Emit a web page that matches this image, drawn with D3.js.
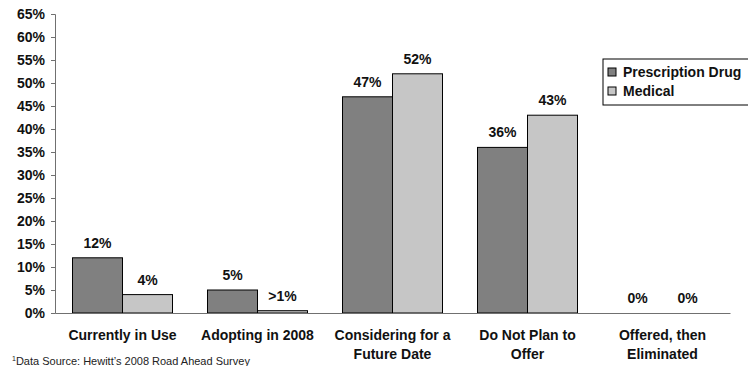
<!DOCTYPE html>
<html>
<head>
<meta charset="utf-8">
<script src="https://cdn.jsdelivr.net/npm/d3@7"></script>
<style>
  body { margin: 0; background: #fff; }
  svg { font-family: "Liberation Sans", Arial, sans-serif; }
</style>
</head>
<body>
<div id="chart"></div>
<script>
// Chart data
const categories = [
  ["Currently in Use"],
  ["Adopting in 2008"],
  ["Considering for a", "Future Date"],
  ["Do Not Plan to", "Offer"],
  ["Offered, then", "Eliminated"]
];
const seriesNames = ["Prescription Drug", "Medical"];
const drugValues = [12, 5, 47, 36, 0];
const medicalValues = [4, 0.5, 52, 43, 0];
const drugLabels = ["12%", "5%", "47%", "36%", "0%"];
const medicalLabels = ["4%", ">1%", "52%", "43%", "0%"];
const yTicks = [0, 5, 10, 15, 20, 25, 30, 35, 40, 45, 50, 55, 60, 65];

const colors = ["#808080", "#c6c6c6"];
const width = 748, height = 366;
const margin = { top: 14, left: 55, bottom: 53, right: 18 };

const svg = d3.select("#chart").append("svg")
  .attr("width", width)
  .attr("height", height);

const x = d3.scaleBand()
  .domain(d3.range(categories.length))
  .range([margin.left, width - margin.right]);

const inner = d3.scaleBand()
  .domain([0, 1])
  .range([0, 100])
  .paddingInner(0);

const y = d3.scaleLinear()
  .domain([0, 65])
  .range([height - margin.bottom, margin.top]);

const series = [drugValues, medicalValues];
const labels = [drugLabels, medicalLabels];

// Bars
series.forEach((vals, s) => {
  svg.append("g").selectAll("rect")
    .data(vals)
    .join("rect")
    .attr("x", (d, i) => x(i) + (x.bandwidth() - 100) / 2 + inner(s))
    .attr("y", d => y(d))
    .attr("width", inner.bandwidth())
    .attr("height", d => y(0) - y(d))
    .attr("fill", colors[s])
    .attr("stroke", d => d > 0 ? "#000" : "none")
    .attr("stroke-width", 1);

  svg.append("g").selectAll("text")
    .data(vals)
    .join("text")
    .attr("x", (d, i) => x(i) + (x.bandwidth() - 100) / 2 + inner(s) + inner.bandwidth() / 2)
    .attr("y", d => y(d) - 10)
    .attr("text-anchor", "middle")
    .attr("font-size", 14)
    .attr("font-weight", "bold")
    .attr("fill", "#111")
    .text((d, i) => labels[s][i]);
});

// Y axis
const yAxis = svg.append("g")
  .attr("transform", `translate(${margin.left},0)`)
  .call(d3.axisLeft(y).tickValues(yTicks).tickFormat(d => d + "%").tickSize(4).tickPadding(6));
yAxis.select(".domain").attr("stroke", "#707070");
yAxis.selectAll(".tick line").attr("stroke", "#707070");
yAxis.selectAll("text")
  .attr("font-size", 14)
  .attr("font-weight", "bold")
  .attr("font-family", "Liberation Sans, Arial, sans-serif")
  .attr("fill", "#111");

// X axis baseline
const xAxis = svg.append("g")
  .attr("transform", `translate(0,${y(0)})`)
  .call(d3.axisBottom(x).tickSize(0).tickFormat(""));
xAxis.select(".domain").attr("stroke", "#707070");

// Category labels
const catG = svg.append("g");
categories.forEach((lines, i) => {
  const t = catG.append("text")
    .attr("x", x(i) + x.bandwidth() / 2)
    .attr("y", 340)
    .attr("text-anchor", "middle")
    .attr("font-size", 14)
    .attr("font-weight", "bold")
    .attr("fill", "#111");
  lines.forEach((ln, k) => {
    t.append("tspan")
      .attr("x", x(i) + x.bandwidth() / 2)
      .attr("dy", k === 0 ? 0 : 18.5)
      .text(ln);
  });
});

// Legend
const legend = svg.append("g").attr("transform", "translate(603,59)");
legend.append("rect")
  .attr("width", 160).attr("height", 46)
  .attr("fill", "#fff").attr("stroke", "#000");
seriesNames.forEach((name, s) => {
  const g = legend.append("g").attr("transform", `translate(5,${9 + s * 19})`);
  g.append("rect")
    .attr("width", 8).attr("height", 8)
    .attr("fill", colors[s]).attr("stroke", "#000");
  g.append("text")
    .attr("x", 15).attr("y", 9)
    .attr("font-size", 14)
    .attr("font-weight", "bold")
    .attr("fill", "#111")
    .text(name);
});

// Footnote
const foot = svg.append("text")
  .attr("x", 12).attr("y", 365)
  .attr("font-size", 11)
  .attr("fill", "#222");
foot.append("tspan").attr("font-size", 7).attr("dy", -4).text("1");
foot.append("tspan").attr("dy", 4).text("Data Source: Hewitt\u2019s 2008 Road Ahead Survey");
</script>
</body>
</html>
